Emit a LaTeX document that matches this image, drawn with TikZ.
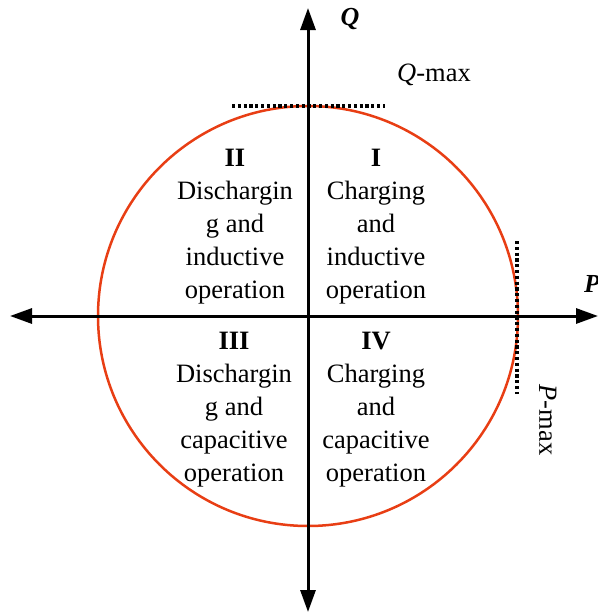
\documentclass[tikz,border=0pt]{standalone}
\usepackage{fontspec}
\setmainfont{Liberation Serif}
\usepackage{tikz}
\usetikzlibrary{arrows.meta, positioning, calc}
\definecolor{circred}{RGB}{232, 62, 20}

\begin{document}
\begin{tikzpicture}[
    x=1pt, y=-1pt,
    axis/.style={draw=black, line width=3pt, {Triangle[length=22pt, width=15pt]}-{Triangle[length=22pt, width=15pt]}},
    limit/.style={draw=black, line width=3.2pt, dash pattern=on 3.2pt off 2.6pt},
    quad/.style={align=center, font=\fontsize{26.5}{33}\selectfont, inner sep=0pt},
    axlabel/.style={font=\fontsize{26}{30}\selectfont\bfseries\itshape, inner sep=0pt},
    maxlabel/.style={font=\fontsize{26.5}{30}\selectfont, inner sep=0pt}
]
\useasboundingbox (0,0) rectangle (597,613);

% axes end points
\coordinate (o) at (308,316);
\coordinate (west) at (10,316);
\coordinate (east) at (598,316);
\coordinate (north) at (308,8);
\coordinate (south) at (308,612);

\draw[circred, line width=2.5pt] (o) circle[radius=210];

\draw[axis] (west) -- (east);
\draw[axis] (south) -- (north);

% limits
\coordinate (qa) at (232,106);
\coordinate (qb) at (385,106);
\coordinate (pa) at (517,241);
\coordinate (pb) at (517,394);
\draw[limit] (qa) -- (qb);
\draw[limit] (pa) -- (pb);

\node[axlabel] (qlab) at (350,19) {Q};
\node[axlabel, anchor=west] (plab) at (584,284) {P};
\node[maxlabel] (qmax) at (434,75) {\textit{Q}-max};
\node[maxlabel, rotate=-90] (pmax) at (548,420) {\textit{P}-max};

\node[quad, anchor=north] (q1) at (376,148.5) {\textbf{I}\\Charging\\and\\inductive\\operation};
\node[quad, anchor=north] (q2) at (235,148.5) {\textbf{II}\\Dischargin\\g and\\inductive\\operation};
\node[quad, anchor=north] (q3) at (234,331.5) {\textbf{III}\\Dischargin\\g and\\capacitive\\operation};
\node[quad, anchor=north] (q4) at (376,331.5) {\textbf{IV}\\Charging\\and\\capacitive\\operation};

\end{tikzpicture}
\end{document}
